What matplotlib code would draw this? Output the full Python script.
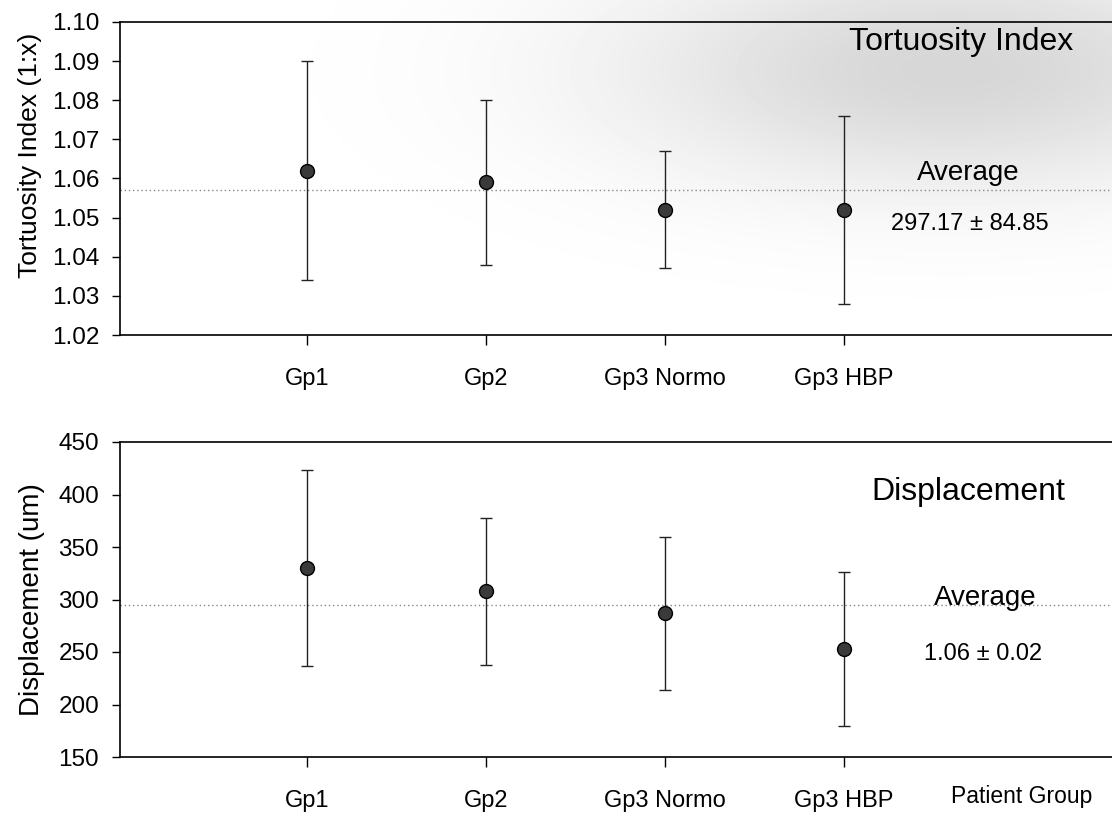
import matplotlib
matplotlib.use('Agg')
import matplotlib.pyplot as plt
import numpy as np

plt.rcParams['font.family'] = ['Liberation Sans', 'DejaVu Sans']

groups = ['Gp1', 'Gp2', 'Gp3 Normo', 'Gp3 HBP']
xpos = [1, 2, 3, 4]

# tortuosity index, mean and SD per group
tort_mean = [1.062, 1.059, 1.052, 1.052]
tort_sd = [0.028, 0.021, 0.015, 0.024]
tort_avg = 1.057

# displacement (um), mean and SD per group
disp_mean = [330, 308, 287, 253]
disp_sd = [93, 70, 73, 73]
disp_avg = 295

W, H = 1112, 817
fig = plt.figure(figsize=(W / 100, H / 100), dpi=100)

def px(x, y):
    return x / W, 1 - y / H

# faint grey tone of the scanned page, strongest in the upper right
bg = fig.add_axes([0, 0, 1, 1], zorder=-1)
gx, gy = np.meshgrid(np.arange(W), np.arange(H))
d = ((gx - 950) / 420.0) ** 2 + ((gy - 70) / 150.0) ** 2
shade = 1 - 0.16 * np.exp(-d * 1.6)
bg.imshow(shade, cmap='gray', vmin=0, vmax=1, aspect='auto', extent=[0, W, H, 0])
bg.axis('off')

ax1 = fig.add_axes([120 / W, 1 - 335 / H, 1 - 120 / W, 313 / H])
ax2 = fig.add_axes([120 / W, 1 - 757 / H, 1 - 120 / W, 315 / H])

def style(ax):
    ax.patch.set_alpha(0)
    ax.spines['right'].set_visible(False)
    for s in ['left', 'top', 'bottom']:
        ax.spines[s].set_linewidth(1.2)
    ax.set_xlim(-0.045, 5.5)
    ax.set_xticks(xpos)
    ax.set_xticklabels(groups)
    ax.tick_params(axis='x', length=7, width=1, pad=17, labelsize=17)
    ax.tick_params(axis='y', length=6, width=1, pad=9, labelsize=17.5)

# top: tortuosity
ax1.axhline(tort_avg, color='#888888', linestyle=(0, (1, 2)), linewidth=1)
ax1.errorbar(xpos, tort_mean, yerr=tort_sd, fmt='o', color='black', ecolor='#222222',
             elinewidth=1, capsize=4, capthick=1, markersize=10,
             markerfacecolor='#3a3a3a', markeredgecolor='black')
ax1.set_ylim(1.02, 1.10)
ax1.set_yticks([1.02, 1.03, 1.04, 1.05, 1.06, 1.07, 1.08, 1.09, 1.10])
ax1.set_yticklabels(['%.2f' % v for v in ax1.get_yticks()])
ax1.set_ylabel('Tortuosity Index (1:x)', fontsize=19)
ax1.yaxis.set_label_coords(-78 / 992, 0.575)
style(ax1)

# bottom: displacement
ax2.axhline(disp_avg, color='#888888', linestyle=(0, (1, 2)), linewidth=1)
ax2.errorbar(xpos, disp_mean, yerr=disp_sd, fmt='o', color='black', ecolor='#222222',
             elinewidth=1, capsize=4, capthick=1, markersize=10,
             markerfacecolor='#3a3a3a', markeredgecolor='black')
ax2.set_ylim(150, 450)
ax2.set_yticks([150, 200, 250, 300, 350, 400, 450])
ax2.set_ylabel('Displacement (um)', fontsize=20)
ax2.yaxis.set_label_coords(-75 / 992, 0.5)
style(ax2)

# panel annotations
fig.text(*px(961, 42), 'Tortuosity Index', fontsize=23, ha='center', va='center')
fig.text(*px(968, 173), 'Average', fontsize=20, ha='center', va='center')
fig.text(*px(970, 224), '297.17 ± 84.85', fontsize=17, ha='center', va='center')
fig.text(*px(968, 492), 'Displacement', fontsize=23, ha='center', va='center')
fig.text(*px(985, 598), 'Average', fontsize=20, ha='center', va='center')
fig.text(*px(983, 654), '1.06 ± 0.02', fontsize=17, ha='center', va='center')
fig.text(*px(1022, 797), 'Patient Group', fontsize=16.5, ha='center', va='center')

fig.savefig('out.png', dpi=100)
